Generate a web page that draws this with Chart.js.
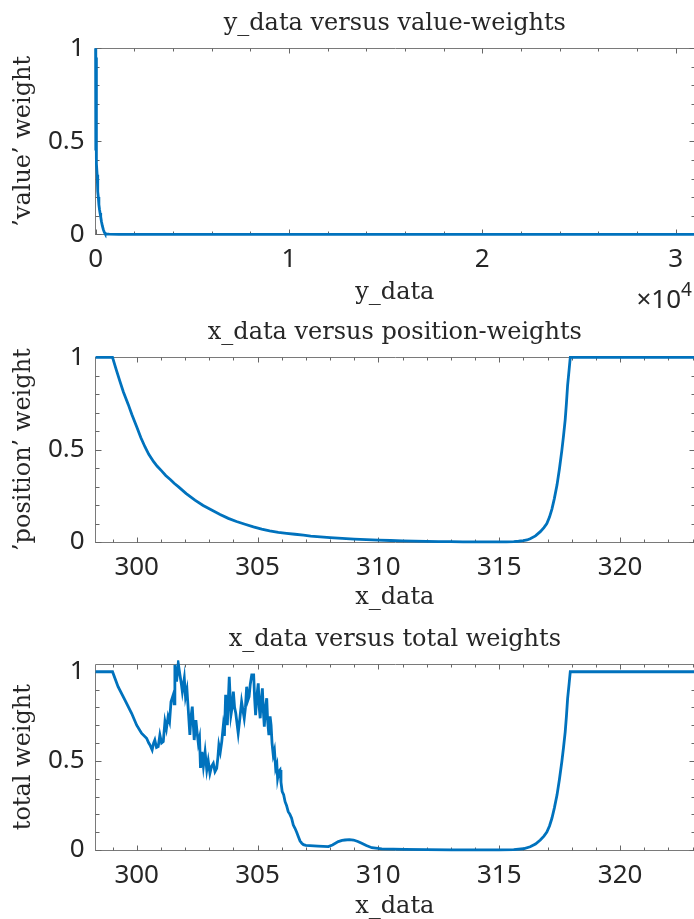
<!DOCTYPE html>
<html>
<head>
<meta charset="utf-8">
<script src="https://cdn.jsdelivr.net/npm/chart.js@4.4.1/dist/chart.umd.min.js"></script>
<style>
  html, body { margin: 0; padding: 0; background: #fff; overflow: hidden; }
  #fig { position: relative; width: 694px; height: 919px; overflow: hidden; background: #fff; }
  canvas { position: absolute; left: 0; }
</style>
</head>
<body>
<div id="fig">
  <canvas id="c1" width="700" height="315" style="top:0px"></canvas>
  <canvas id="c2" width="700" height="310" style="top:310px"></canvas>
  <canvas id="c3" width="700" height="305" style="top:614px"></canvas>
</div>
<script>
// ---- value weights as a function of y_data ----
const yData = [0, 3, 6, 10, 14, 18, 22, 26, 30, 35, 40, 46, 52, 60, 80, 100, 120, 140, 170, 200, 230, 264, 300, 350, 400, 450, 486, 550, 700, 1200, 31000];
const valueWeight = [1.0, 0.78, 0.97, 0.62, 0.9, 0.45, 0.82, 0.55, 0.95, 0.4, 0.7, 0.48, 0.42, 0.38, 0.32, 0.27, 0.23, 0.2, 0.16, 0.135, 0.115, 0.095, 0.07, 0.045, 0.025, 0.012, 0.005, 0.002, 0.0005, 0, 0];

// ---- position weights as a function of x_data ----
const posX = [298.3, 299.0, 299.15, 299.3, 299.45, 299.65, 299.8, 300.0, 300.17, 300.34, 300.5, 300.7, 300.85, 301.03, 301.2, 301.4, 301.55, 301.72, 302.05, 302.41, 302.75, 303.1, 303.45, 303.79, 304.13, 304.48, 304.83, 305.17, 305.5, 305.86, 306.2, 306.55, 306.9, 307.2, 307.6, 308.0, 308.5, 309.0, 309.5, 310.0, 310.5, 311.0, 311.5, 312.0, 312.5, 313.0, 313.5, 314.0, 314.5, 315.0, 315.3, 315.6, 315.8, 316.0, 316.15, 316.28, 316.5, 316.7, 316.85, 316.97, 317.08, 317.18, 317.28, 317.39, 317.49, 317.59, 317.66, 317.73, 317.78, 317.83, 317.89, 317.94, 323.1];
const posWeight = [1.0, 1.0, 0.935, 0.872, 0.812, 0.745, 0.69, 0.624, 0.566, 0.516, 0.475, 0.435, 0.41, 0.385, 0.36, 0.337, 0.318, 0.30, 0.262, 0.227, 0.198, 0.173, 0.149, 0.128, 0.111, 0.096, 0.082, 0.070, 0.060, 0.052, 0.047, 0.042, 0.037, 0.032, 0.028, 0.024, 0.020, 0.016, 0.013, 0.010, 0.008, 0.006, 0.0045, 0.003, 0.002, 0.0015, 0.001, 0.0006, 0.0004, 0.0003, 0.0008, 0.002, 0.004, 0.007, 0.011, 0.018, 0.033, 0.056, 0.078, 0.10, 0.135, 0.178, 0.235, 0.308, 0.395, 0.495, 0.575, 0.663, 0.75, 0.85, 0.93, 1.0, 1.0];

// ---- total weights as a function of x_data ----
const totX = [298.3, 299.0, 299.23, 299.51, 299.79, 300.0, 300.2, 300.41, 300.5, 300.55, 300.64, 300.7, 300.75, 300.82, 300.89, 300.96, 301.03, 301.1, 301.17, 301.23, 301.3, 301.36, 301.42, 301.51, 301.55, 301.58, 301.65, 301.72, 301.79, 301.85, 301.89, 301.97, 302.02, 302.08, 302.13, 302.2, 302.25, 302.3, 302.38, 302.45, 302.5, 302.55, 302.6, 302.64, 302.7, 302.76, 302.83, 302.9, 302.96, 303.03, 303.1, 303.17, 303.24, 303.31, 303.36, 303.4, 303.46, 303.52, 303.58, 303.63, 303.68, 303.75, 303.83, 303.9, 303.95, 304.0, 304.05, 304.1, 304.2, 304.27, 304.34, 304.45, 304.5, 304.55, 304.6, 304.65, 304.7, 304.76, 304.84, 304.88, 304.92, 304.97, 305.03, 305.07, 305.11, 305.16, 305.2, 305.24, 305.28, 305.33, 305.38, 305.42, 305.47, 305.52, 305.56, 305.6, 305.65, 305.7, 305.75, 305.8, 305.83, 305.88, 305.93, 305.97, 306.02, 306.08, 306.14, 306.2, 306.27, 306.34, 306.41, 306.48, 306.55, 306.62, 306.69, 306.76, 306.83, 306.9, 307.0, 307.5, 307.93, 308.1, 308.34, 308.5, 308.62, 308.8, 308.97, 309.15, 309.31, 309.5, 309.73, 310.14, 311.1, 312.0, 313.0, 314.0, 315.0, 315.6, 316.0, 316.28, 316.5, 316.7, 316.85, 316.97, 317.08, 317.18, 317.28, 317.39, 317.49, 317.59, 317.66, 317.73, 317.78, 317.83, 317.89, 317.94, 323.1];
const totWeight = [1.0, 1.0, 0.916, 0.842, 0.767, 0.70, 0.655, 0.627, 0.60, 0.589, 0.561, 0.60, 0.617, 0.575, 0.58, 0.645, 0.60, 0.608, 0.72, 0.68, 0.748, 0.72, 0.832, 0.87, 0.82, 1.038, 0.944, 1.047, 0.982, 0.93, 0.888, 0.963, 0.86, 0.90, 0.795, 0.645, 0.75, 0.804, 0.617, 0.729, 0.66, 0.599, 0.63, 0.46, 0.55, 0.47, 0.55, 0.449, 0.50, 0.43, 0.47, 0.486, 0.44, 0.458, 0.52, 0.589, 0.55, 0.608, 0.692, 0.64, 0.87, 0.70, 0.972, 0.757, 0.80, 0.888, 0.80, 0.767, 0.655, 0.74, 0.832, 0.739, 0.80, 0.916, 0.84, 0.86, 0.93, 0.982, 0.982, 0.85, 0.757, 0.86, 0.935, 0.80, 0.739, 0.85, 0.907, 0.78, 0.692, 0.80, 0.851, 0.72, 0.645, 0.75, 0.70, 0.60, 0.533, 0.56, 0.458, 0.48, 0.402, 0.44, 0.449, 0.38, 0.327, 0.31, 0.271, 0.25, 0.215, 0.20, 0.178, 0.14, 0.122, 0.10, 0.075, 0.05, 0.038, 0.03, 0.026, 0.022, 0.019, 0.028, 0.047, 0.054, 0.056, 0.058, 0.056, 0.048, 0.038, 0.025, 0.013, 0.006, 0.003, 0.002, 0.001, 0.0005, 0.0003, 0.002, 0.007, 0.018, 0.033, 0.056, 0.078, 0.10, 0.135, 0.178, 0.235, 0.308, 0.395, 0.495, 0.575, 0.663, 0.75, 0.85, 0.93, 1.0, 1.0];

// ---- tick values and labels ----
const yDataTicks = [0, 10000, 20000, 30000];
const yDataTickLabels = ['0', '1', '2', '3'];
const xDataTicks = [300, 305, 310, 315, 320];
const xDataTickLabels = ['300', '305', '310', '315', '320'];
const weightTicks = [0, 0.5, 1];
const weightTickLabels = ['0', '0.5', '1'];

const LINE = '#0072BD';
const TEXT = '#262626';
const SERIF = '"DejaVu Serif", serif';
const SANS = '"Noto Sans", sans-serif';

function steps(a, b, d) {
  const out = [];
  for (let v = a; v <= b + 1e-9; v += d) out.push(+v.toFixed(6));
  return out;
}

// box, inward tick marks, title and axis labels
const axesDecor = {
  id: 'axesDecor',
  beforeDatasetsDraw(chart, args, o) {
    const ctx = chart.ctx;
    const a = chart.chartArea;
    const xs = chart.scales.x, ys = chart.scales.y;
    const L = Math.floor(a.left) + 0.5, R = Math.floor(a.right) + 0.5;
    const T = Math.floor(a.top) + 0.5, B = Math.floor(a.bottom) + 0.5;
    ctx.save();
    ctx.strokeStyle = '#7a7a7a';
    ctx.lineWidth = 1;
    ctx.beginPath();
    ctx.moveTo(L, T); ctx.lineTo(R, T); ctx.lineTo(R, B); ctx.lineTo(L, B); ctx.closePath();
    ctx.stroke();
    ctx.strokeStyle = '#666';
    const xt = (vals, len) => {
      vals.forEach(v => {
        const p = Math.round(xs.getPixelForValue(v)) + 0.5;
        if (p < L || p > R) return;
        ctx.beginPath();
        ctx.moveTo(p, B); ctx.lineTo(p, B - len);
        ctx.moveTo(p, T); ctx.lineTo(p, T + len);
        ctx.stroke();
      });
    };
    const yt = (vals, len) => {
      vals.forEach(v => {
        const p = Math.round(ys.getPixelForValue(v)) + 0.5;
        if (p < T - 1 || p > B + 1) return;
        ctx.beginPath();
        ctx.moveTo(L, p); ctx.lineTo(L + len, p);
        ctx.moveTo(R, p); ctx.lineTo(R - len, p);
        ctx.stroke();
      });
    };
    xt(o.minorX, 3); xt(o.majorX, 5);
    yt(o.minorY, 4); yt(o.majorY, 6);
    ctx.restore();
  },
  afterDraw(chart, args, o) {
    const ctx = chart.ctx;
    const a = chart.chartArea;
    const cx = (a.left + a.right) / 2 - 0.5;
    ctx.save();
    ctx.fillStyle = TEXT;
    ctx.textBaseline = 'alphabetic';
    ctx.textAlign = 'center';
    ctx.font = '24px ' + SERIF;
    ctx.fillText(o.title, cx, a.top - 18);
    ctx.fillText(o.xlabel, cx, a.bottom + o.xlabelOffset);
    ctx.save();
    ctx.translate(30, (a.top + a.bottom) / 2);
    ctx.rotate(-Math.PI / 2);
    ctx.fillText(o.ylabel, 0, 0);
    ctx.restore();
    if (o.exponent) {
      ctx.textAlign = 'right';
      ctx.font = '26px ' + SANS;
      ctx.fillText('\u00d710', 681, 308);
      ctx.textAlign = 'left';
      ctx.font = '19px ' + SANS;
      ctx.fillText(o.exponent, 681, 296);
    }
    ctx.restore();
  }
};

function makeChart(id, xs, ys, cfg) {
  const ctx = document.getElementById(id);
  return new Chart(ctx, {
    type: 'line',
    data: {
      datasets: [{
        data: xs.map((x, i) => ({ x: x, y: ys[i] })),
        borderColor: LINE,
        borderWidth: 2.8,
        pointRadius: 0,
        tension: 0,
        fill: false,
        clip: 4
      }]
    },
    options: {
      responsive: false,
      animation: false,
      devicePixelRatio: 1,
      layout: { padding: cfg.padding },
      plugins: {
        legend: { display: false },
        tooltip: { enabled: false },
        axesDecor: cfg.decor
      },
      scales: {
        x: {
          type: 'linear',
          min: cfg.xmin, max: cfg.xmax,
          grid: { display: false, drawTicks: false, tickLength: 0 },
          border: { display: false },
          ticks: {
            color: TEXT,
            font: { family: SANS, size: 26 },
            padding: 10,
            maxRotation: 0,
            autoSkip: false,
            callback: (v, i) => cfg.xLabels[i]
          },
          afterBuildTicks: s => { s.ticks = cfg.xTicks.map(v => ({ value: v })); },
          afterFit: s => { s.height = 40; }
        },
        y: {
          type: 'linear',
          min: 0, max: cfg.ymax,
          grid: { display: false, drawTicks: false, tickLength: 0 },
          border: { display: false },
          ticks: {
            color: TEXT,
            font: { family: SANS, size: 26 },
            padding: 11,
            autoSkip: false,
            callback: (v, i) => weightTickLabels[i]
          },
          afterBuildTicks: s => { s.ticks = weightTicks.map(v => ({ value: v })); },
          afterFit: s => { s.width = 95.6; }
        }
      }
    },
    plugins: [axesDecor]
  });
}

const minorW = steps(0, 1, 0.1);

makeChart('c1', yData, valueWeight, {
  xmin: 0, xmax: 31000, ymax: 1,
  xTicks: yDataTicks, xLabels: yDataTickLabels,
  padding: { top: 48.3, bottom: 40.7, left: 0, right: 5 },
  decor: {
    title: 'y_data versus value-weights', xlabel: 'y_data', ylabel: '\u2019value\u2019 weight',
    xlabelOffset: 65, exponent: '4',
    majorX: yDataTicks, minorX: steps(0, 30000, 2000), majorY: weightTicks, minorY: minorW
  }
});

makeChart('c2', posX, posWeight, {
  xmin: 298.3, xmax: 323.1, ymax: 1,
  xTicks: xDataTicks, xLabels: xDataTickLabels,
  padding: { top: 47.3, bottom: 38, left: 0, right: 5 },
  decor: {
    title: 'x_data versus position-weights', xlabel: 'x_data', ylabel: '\u2019position\u2019 weight',
    xlabelOffset: 62,
    majorX: xDataTicks, minorX: steps(299, 323, 1), majorY: weightTicks, minorY: minorW
  }
});

makeChart('c3', totX, totWeight, {
  xmin: 298.3, xmax: 323.1, ymax: 1.0417,
  xTicks: xDataTicks, xLabels: xDataTickLabels,
  padding: { top: 50.3, bottom: 29, left: 0, right: 5 },
  decor: {
    title: 'x_data versus total weights', xlabel: 'x_data', ylabel: 'total weight',
    xlabelOffset: 63,
    majorX: xDataTicks, minorX: steps(299, 323, 1), majorY: weightTicks, minorY: minorW
  }
});
</script>
</body>
</html>
